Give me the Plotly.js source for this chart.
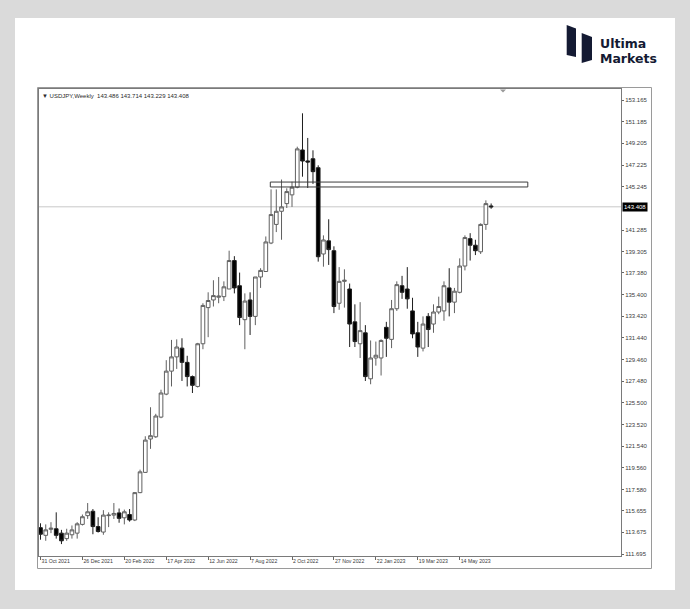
<!DOCTYPE html>
<html><head><meta charset="utf-8">
<script src="https://cdn.plot.ly/plotly-3.0.1.min.js"></script>
<style>
html,body{margin:0;padding:0;background:#dadada;width:690px;height:609px;overflow:hidden}
#panel{position:absolute;left:15px;top:18px;width:660px;height:572px;background:#ffffff}
#chart{position:absolute;left:0;top:0;width:690px;height:609px}
</style></head><body>
<div id="panel"></div><div id="chart"></div>
<script>
// ---- DATA ----
const symbolTitle = 'USDJPY,Weekly';
const weeks = [
'2021-10-31','2021-11-07','2021-11-14','2021-11-21','2021-11-28','2021-12-05','2021-12-12','2021-12-19','2021-12-26',
'2022-01-02','2022-01-09','2022-01-16','2022-01-23','2022-01-30','2022-02-06','2022-02-13','2022-02-20','2022-02-27',
'2022-03-06','2022-03-13','2022-03-20','2022-03-27','2022-04-03','2022-04-10','2022-04-17','2022-04-24','2022-05-01',
'2022-05-08','2022-05-15','2022-05-22','2022-05-29','2022-06-05','2022-06-12','2022-06-19','2022-06-26','2022-07-03',
'2022-07-10','2022-07-17','2022-07-24','2022-07-31','2022-08-07','2022-08-14','2022-08-21','2022-08-28','2022-09-04',
'2022-09-11','2022-09-18','2022-09-25','2022-10-02','2022-10-09','2022-10-16','2022-10-23','2022-10-30','2022-11-06',
'2022-11-13','2022-11-20','2022-11-27','2022-12-04','2022-12-11','2022-12-18','2022-12-25','2023-01-01','2023-01-08',
'2023-01-15','2023-01-22','2023-01-29','2023-02-05','2023-02-12','2023-02-19','2023-02-26','2023-03-05','2023-03-12',
'2023-03-19','2023-03-26','2023-04-02','2023-04-09','2023-04-16','2023-04-23','2023-04-30','2023-05-07','2023-05-14',
'2023-05-21','2023-05-28','2023-06-04','2023-06-11','2023-06-18','2023-06-25'];
const openP = [
114.10,113.40,113.95,114.00,113.60,113.10,113.45,113.60,114.40,
115.20,115.60,114.20,113.70,115.20,115.25,115.45,115.00,115.30,
114.80,117.30,119.15,122.20,122.40,124.20,126.30,128.40,129.70,
130.50,129.20,127.90,127.00,130.90,134.20,134.90,135.15,135.20,
135.90,138.50,136.20,133.10,134.90,133.40,137.00,137.50,140.10,
141.80,143.00,143.70,144.50,145.20,148.60,147.60,147.80,146.98,
139.10,140.30,139.40,134.60,136.60,135.90,132.90,130.90,131.90,
127.70,129.60,129.60,132.40,131.30,134.10,136.20,135.90,133.90,
131.90,130.50,133.40,132.70,133.80,133.90,136.00,134.70,135.60,
138.00,140.50,139.90,139.30,141.80,143.486];
const highP = [
114.50,114.40,114.60,115.50,113.90,114.00,114.30,114.60,115.30,
116.35,115.80,115.05,115.70,115.50,116.35,115.85,115.75,115.80,
117.35,119.40,122.45,125.10,124.50,126.70,129.40,131.25,131.30,
131.40,129.80,128.00,130.98,134.60,135.60,136.70,137.00,136.60,
139.40,138.90,137.40,135.50,135.60,137.00,137.80,140.70,145.00,
145.00,145.90,145.10,145.70,148.90,151.95,149.70,148.57,147.20,
140.80,142.27,139.80,137.90,137.70,136.40,134.50,134.70,132.60,
131.20,131.10,131.30,132.90,134.90,136.60,137.10,137.90,135.10,
132.90,133.40,133.70,134.50,135.20,136.60,137.80,136.00,138.70,
140.80,141.00,140.40,141.90,144.00,143.714];
const lowP = [
113.00,112.90,113.60,113.10,112.60,112.90,113.10,113.10,114.30,
114.90,113.50,113.65,113.45,114.15,114.90,114.55,114.40,114.65,
114.70,117.25,119.10,121.30,122.30,124.10,126.20,127.00,128.60,
127.50,127.00,126.40,126.90,130.40,131.50,134.30,134.60,134.80,
135.90,135.50,132.60,130.40,131.70,132.60,136.00,137.50,140.00,
141.10,140.40,143.30,143.40,145.10,146.16,145.13,145.50,138.40,
137.94,138.10,133.70,134.00,134.20,130.60,130.60,129.60,127.50,
127.20,128.90,128.00,129.70,130.50,133.90,135.00,134.10,131.40,
129.70,130.20,130.60,131.90,133.60,133.00,133.40,133.70,135.50,
137.60,138.50,139.00,139.10,141.30,143.229];
const closeP = [
113.50,113.90,114.05,113.40,112.90,113.60,113.90,114.45,115.10,
115.55,114.20,113.75,115.25,115.25,115.40,114.95,115.55,114.80,
117.30,119.20,122.10,122.50,124.30,126.40,128.40,129.70,130.60,
129.20,127.90,127.10,130.90,134.40,134.85,135.30,135.25,136.10,
138.50,136.00,133.30,134.80,133.40,137.00,137.60,140.20,142.70,
143.00,143.40,144.80,145.20,148.70,147.59,147.50,146.62,138.85,
140.38,139.50,134.30,136.60,136.70,132.70,131.10,132.10,127.90,
129.60,129.85,131.20,131.40,134.10,136.30,135.60,135.00,131.80,
130.60,132.70,132.20,133.80,134.30,136.20,134.70,135.70,138.00,
140.60,139.90,139.40,141.80,143.70,143.408];
const xTickDates = ['2021-10-31','2021-12-26','2022-02-20','2022-04-17','2022-06-12','2022-08-07',
                    '2022-10-02','2022-11-27','2023-01-22','2023-03-19','2023-05-14'];
const xTickLabels = ['31 Oct 2021','26 Dec 2021','20 Feb 2022','17 Apr 2022','12 Jun 2022','7 Aug 2022',
                     '2 Oct 2022','27 Nov 2022','22 Jan 2023','19 Mar 2023','14 May 2023'];
const yTickValues = [153.165,151.185,149.205,147.225,145.245,141.285,139.305,137.380,135.400,133.420,
                     131.440,129.460,127.480,125.500,123.520,121.540,119.560,117.580,115.655,113.675,111.695];
const yTickLabels = ['153.165','151.185','149.205','147.225','145.245','141.285','139.305','137.380','135.400','133.420',
                     '131.440','129.460','127.480','125.500','123.520','121.540','119.560','117.580','115.655','113.675','111.695'];
const lastPrice = 143.408;
const lastPriceLabel = '143.408';
const headerValues = ['143.486','143.714','143.229','143.408'];
const zone = {start:'2022-09-03', end:'2023-08-13', low:145.22, high:145.67};
const logoLines = ['Ultima','Markets'];

// ---- LAYOUT GEOMETRY ----
const PL=39, PT=89, PR=621, PB=556;
const PW=PR-PL, PH=PB-PT;
const fx = p => (p-PL)/PW;
const fy = p => (PB-p)/PH;
const path = pts => 'M' + pts.map(p => fx(p[0]).toFixed(5)+','+fy(p[1]).toFixed(5)).join(' L') + ' Z';

const trace = {
  type:'candlestick', x:weeks, open:openP, high:highP, low:lowP, close:closeP,
  increasing:{fillcolor:'#ffffff', line:{color:'#606060', width:1}},
  decreasing:{fillcolor:'#000000', line:{color:'#1e1e1e', width:1}},
  whiskerwidth:0, hoverinfo:'skip', showlegend:false
};

const axisFont = {family:'Liberation Sans, Arial, sans-serif', size:6, color:'#3a3a3a'};
const logoFont = {family:'DejaVu Sans, sans-serif', size:12.5, color:'#141a33', weight:700};

const layout = {
  width:690, height:609,
  margin:{l:PL, r:690-PR, t:PT, b:609-PB, pad:0},
  paper_bgcolor:'rgba(0,0,0,0)', plot_bgcolor:'#ffffff',
  showlegend:false, boxgap:0.3, boxgroupgap:0,
  xaxis:{type:'date', range:['2021-10-29','2023-12-15 12:00'], rangeslider:{visible:false},
    showgrid:false, zeroline:false, showline:true, mirror:true, linecolor:'#7a7a7a', linewidth:1,
    tickmode:'array', tickvals:xTickDates, ticktext:xTickLabels, ticks:'outside', ticklen:3,
    tickcolor:'#666', ticklabelposition:'outside right', tickfont:{...axisFont, size:5.2}, fixedrange:true},
  yaxis:{side:'right', range:[111.512, 154.17], showgrid:false, zeroline:false, showline:true, mirror:true,
    linecolor:'#7a7a7a', linewidth:1, tickmode:'array', tickvals:yTickValues, ticktext:yTickLabels,
    ticks:'outside', ticklen:2, tickcolor:'#666', tickfont:axisFont, fixedrange:true},
  shapes:[
    {type:'rect', xref:'paper', yref:'paper', x0:fx(37.5), x1:fx(651.5), y0:fy(568.5), y1:fy(87.5),
     line:{color:'#9a9a9a', width:1}, fillcolor:'rgba(0,0,0,0)', layer:'below'},
    {type:'line', xref:'paper', yref:'y', x0:0, x1:1, y0:lastPrice, y1:lastPrice,
     line:{color:'#c8c8c8', width:1}, layer:'below'},
    {type:'rect', xref:'x', yref:'y', x0:zone.start, x1:zone.end, y0:zone.low, y1:zone.high,
     line:{color:'#3c3c3c', width:1}, fillcolor:'rgba(0,0,0,0)'},
    {type:'path', xref:'paper', yref:'paper', path:path([[500,89.5],[506,89.5],[503,92.5]]),
     fillcolor:'#9a9a9a', line:{width:0}},
    {type:'path', xref:'paper', yref:'paper', path:path([[566.7,25],[576,28.5],[576,57],[566.7,55]]),
     fillcolor:'#141a33', line:{width:0}},
    {type:'path', xref:'paper', yref:'paper', path:path([[581.7,33],[592,37],[592,60],[581.7,63]]),
     fillcolor:'#141a33', line:{width:0}}
  ],
  annotations:[
    {xref:'paper', yref:'y', x:1, y:lastPrice, xanchor:'left', yanchor:'middle', xshift:1,
     text:lastPriceLabel, showarrow:false, bgcolor:'#000000', borderpad:1,
     font:{family:'Liberation Sans, Arial, sans-serif', size:6, color:'#ffffff'}},
    {xref:'paper', yref:'paper', x:fx(40), y:fy(96), xanchor:'left', yanchor:'middle', showarrow:false,
     text:'\u25BC ' + symbolTitle + '  ' + headerValues.join(' '),
     font:{family:'Liberation Sans, Arial, sans-serif', size:6, color:'#2a2a2a'}},
    {xref:'paper', yref:'paper', x:fx(599), y:fy(43.4), xanchor:'left', yanchor:'middle', showarrow:false,
     borderpad:0, text:logoLines[0], font:logoFont},
    {xref:'paper', yref:'paper', x:fx(599), y:fy(58.3), xanchor:'left', yanchor:'middle', showarrow:false,
     borderpad:0, text:logoLines[1], font:logoFont}
  ]
};

Plotly.newPlot('chart', [trace], layout, {staticPlot:true, displayModeBar:false});
</script>
</body></html>
